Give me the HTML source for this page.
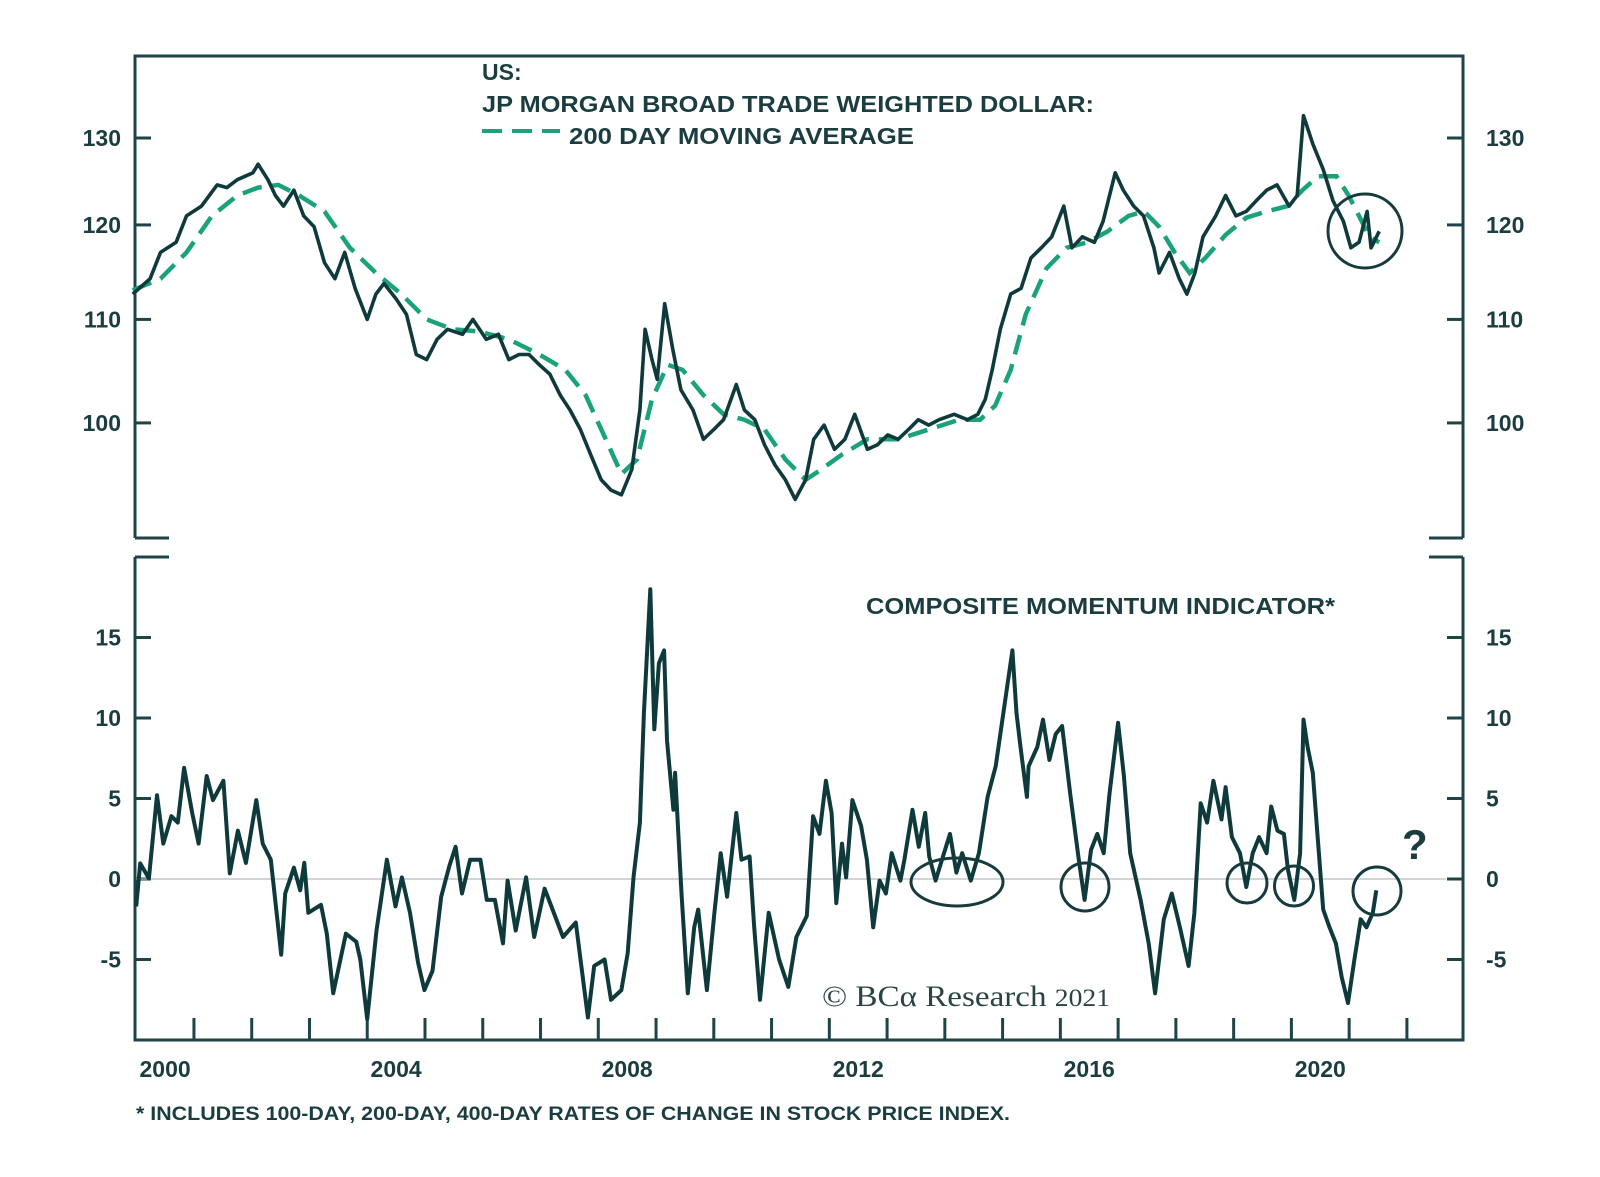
<!DOCTYPE html>
<html><head><meta charset="utf-8">
<style>
html,body{margin:0;padding:0;background:#fff;}
svg{display:block;}
text{font-family:"Liberation Sans",Arial,sans-serif;fill:#1b3d40;}
.lbl{font-size:23px;font-weight:bold;}
.ttl{font-size:23px;font-weight:bold;}
</style></head>
<body>
<svg id="chart" width="1600" height="1177" viewBox="0 0 1600 1177" xmlns="http://www.w3.org/2000/svg">
<g id="frames">
  <path d="M135,538 L135,56 L1463,56 L1463,538" fill="none" stroke="#1f4447" stroke-width="3"/>
  <line x1="135" y1="538" x2="169" y2="538" stroke="#1f4447" stroke-width="3"/>
  <line x1="1429" y1="538" x2="1463" y2="538" stroke="#1f4447" stroke-width="3"/>
  <path d="M135,557 L135,1040 L1463,1040 L1463,557" fill="none" stroke="#1f4447" stroke-width="3"/>
  <line x1="135" y1="557" x2="169" y2="557" stroke="#1f4447" stroke-width="3"/>
  <line x1="1429" y1="557" x2="1463" y2="557" stroke="#1f4447" stroke-width="3"/>
</g>
<g id="axes"></g>
<g id="series"></g>
<g id="annot" fill="none" stroke="#163a3d" stroke-width="3">
  <circle cx="1365" cy="231" r="37"/>
  <ellipse cx="957" cy="882" rx="46" ry="24"/>
  <ellipse cx="1085" cy="887" rx="24" ry="24"/>
  <ellipse cx="1247" cy="883" rx="20" ry="20"/>
  <ellipse cx="1294" cy="886" rx="19.5" ry="20"/>
  <ellipse cx="1377" cy="891" rx="24" ry="24"/>
</g>
<text x="1402" y="859" style="font-size:42px;font-weight:bold">?</text>
<text x="482" y="80" class="ttl">US:</text>
<text x="482" y="112" class="ttl" textLength="612" lengthAdjust="spacingAndGlyphs">JP MORGAN BROAD TRADE WEIGHTED DOLLAR:</text>
<line x1="482" y1="131" x2="560" y2="131" stroke="#1aa37a" stroke-width="4" stroke-dasharray="20,10"/>
<text x="569" y="144" class="ttl" textLength="345" lengthAdjust="spacingAndGlyphs">200 DAY MOVING AVERAGE</text>
<text x="866" y="614" class="ttl" textLength="469" lengthAdjust="spacingAndGlyphs">COMPOSITE MOMENTUM INDICATOR*</text>
<text x="822" y="1006" textLength="288" lengthAdjust="spacingAndGlyphs" style="font-family:'Liberation Serif',serif;font-size:30px;fill:#2a4446">© BCα Research <tspan style="font-size:25px">2021</tspan></text>
<text x="136" y="1120" textLength="874" lengthAdjust="spacingAndGlyphs" style="font-size:19px;font-weight:bold">* INCLUDES 100-DAY, 200-DAY, 400-DAY  RATES OF CHANGE IN STOCK PRICE INDEX.</text>
</svg>
<script>
const BASE_YEAR = 2000;
const topTicks = [130, 120, 110, 100];
const bottomTicks = [15, 10, 5, 0, -5];
const xLabels = [2000, 2004, 2008, 2012, 2016, 2020];
const dollarYears = [-0.06,0.24,0.42,0.69,0.87,1.13,1.40,1.57,1.75,2.02,2.11,2.28,2.41,2.55,2.73,2.90,3.08,3.26,3.44,3.61,3.79,4.00,4.15,4.29,4.50,4.68,4.85,5.03,5.21,5.39,5.65,5.83,6.06,6.27,6.45,6.63,6.80,6.98,7.16,7.34,7.51,7.69,7.87,8.05,8.22,8.40,8.58,8.72,8.81,8.93,9.02,9.15,9.29,9.43,9.64,9.82,10.00,10.17,10.39,10.53,10.71,10.88,11.06,11.24,11.41,11.59,11.73,11.91,12.09,12.27,12.44,12.66,12.83,13.01,13.19,13.37,13.54,13.72,13.90,14.16,14.39,14.57,14.70,14.82,14.96,15.14,15.32,15.49,15.67,15.85,16.06,16.20,16.38,16.59,16.74,16.95,17.09,17.27,17.44,17.62,17.71,17.89,18.06,18.19,18.33,18.47,18.69,18.86,19.04,19.22,19.39,19.57,19.75,19.96,20.10,20.21,20.37,20.55,20.72,20.90,21.03,21.17,21.31,21.38,21.52];
const dollarValues = [112.6,114.2,117.0,118.1,121.0,122.1,124.5,124.2,125.1,125.9,126.9,125.1,123.3,122.1,123.9,121.0,119.8,115.9,114.2,117.0,113.2,110.0,112.6,113.7,112.1,110.5,106.5,106.0,108.0,109.0,108.5,110.0,108.0,108.5,106.0,106.5,106.5,105.5,104.6,102.6,101.2,99.4,97.1,94.9,94.0,93.6,95.8,101.2,109.0,106.0,104.1,111.6,107.0,103.1,101.2,98.5,99.4,100.3,103.6,101.2,100.3,98.0,96.2,94.9,93.2,94.9,98.5,99.8,97.6,98.5,100.8,97.6,98.0,98.9,98.5,99.4,100.3,99.8,100.3,100.8,100.3,100.8,102.2,105.0,109.0,112.6,113.2,116.4,117.5,118.7,122.1,117.5,118.7,118.1,120.4,125.9,123.9,122.1,121.0,117.5,114.8,117.0,114.2,112.6,114.8,118.7,121.0,123.3,121.0,121.5,122.7,123.9,124.5,122.1,123.3,132.7,129.3,126.3,122.7,120.4,117.5,118.1,121.5,117.5,119.3];
const maYears = [-0.06,0.42,0.87,1.31,1.75,2.11,2.46,2.82,3.26,3.70,4.15,4.59,5.03,5.48,5.92,6.45,6.98,7.43,7.78,8.13,8.40,8.67,8.93,9.20,9.46,9.82,10.17,10.53,10.88,11.24,11.59,11.86,12.21,12.66,13.19,13.72,14.25,14.61,14.87,15.14,15.40,15.76,16.11,16.47,16.82,17.18,17.45,17.71,17.98,18.24,18.51,18.86,19.22,19.57,19.93,20.19,20.46,20.78,20.99,21.17,21.35,21.52];
const maValues = [113.0,114.2,117.0,121.0,123.3,124.2,124.5,123.3,121.5,117.5,114.8,112.6,110.0,109.0,108.8,108.0,106.5,105.0,102.6,98.5,95.4,96.7,102.2,105.5,105.0,102.6,100.8,100.3,99.4,96.7,94.9,95.8,97.1,98.5,98.5,99.4,100.3,100.3,101.6,105.0,110.5,115.3,117.5,118.1,119.3,121.0,121.5,119.8,117.0,114.8,116.4,118.9,120.8,121.5,122.1,123.9,125.5,125.5,123.3,121.0,118.7,118.1];
const momYears = [0.00,0.07,0.22,0.36,0.47,0.61,0.72,0.83,0.97,1.08,1.22,1.33,1.51,1.62,1.76,1.90,2.08,2.19,2.33,2.51,2.58,2.73,2.84,2.91,2.98,3.20,3.30,3.41,3.63,3.81,3.88,4.00,4.16,4.34,4.49,4.60,4.74,4.88,4.99,5.13,5.28,5.42,5.53,5.64,5.78,5.96,6.07,6.21,6.35,6.43,6.57,6.75,6.89,7.07,7.21,7.39,7.61,7.82,7.93,8.11,8.22,8.40,8.51,8.61,8.72,8.79,8.90,8.97,9.05,9.14,9.19,9.30,9.33,9.44,9.55,9.66,9.73,9.88,10.01,10.12,10.23,10.39,10.48,10.62,10.70,10.80,10.95,11.13,11.29,11.43,11.61,11.72,11.83,11.94,12.04,12.12,12.22,12.29,12.40,12.55,12.65,12.76,12.87,12.98,13.08,13.23,13.30,13.44,13.55,13.66,13.73,13.84,13.95,14.09,14.20,14.30,14.45,14.59,14.74,14.88,15.02,15.17,15.24,15.31,15.42,15.45,15.60,15.70,15.81,15.92,16.03,16.17,16.32,16.42,16.53,16.64,16.75,16.85,17.00,17.10,17.21,17.39,17.53,17.64,17.79,17.93,18.07,18.22,18.32,18.43,18.54,18.65,18.79,18.86,18.97,19.11,19.22,19.33,19.44,19.57,19.65,19.76,19.87,19.94,20.05,20.15,20.21,20.28,20.37,20.44,20.55,20.66,20.77,20.87,20.98,21.09,21.20,21.30,21.41,21.47];
const momValues = [-1.7,0.97,0.04,5.2,2.2,3.9,3.5,6.9,4.1,2.2,6.4,4.9,6.1,0.35,3.0,1.0,4.9,2.2,1.2,-4.7,-0.9,0.7,-0.7,1.0,-2.1,-1.6,-3.4,-7.1,-3.4,-3.9,-5.0,-8.7,-3.2,1.2,-1.7,0.1,-2.1,-5.2,-6.9,-5.7,-1.1,0.8,2.0,-0.9,1.2,1.2,-1.3,-1.3,-4.0,-0.1,-3.2,0.1,-3.6,-0.6,-1.9,-3.6,-2.7,-8.6,-5.4,-5.0,-7.5,-6.9,-4.6,0.1,3.5,10.3,18.0,9.3,13.4,14.2,8.6,4.3,6.6,-0.9,-7.1,-3.0,-1.9,-6.9,-2.1,1.6,-1.1,4.1,1.2,1.4,-3.0,-7.5,-2.1,-5.0,-6.7,-3.6,-2.3,3.9,2.8,6.1,4.1,-1.5,2.2,0.1,4.9,3.3,1.2,-3.0,-0.1,-0.9,1.6,-0.1,1.2,4.3,2.0,4.1,1.4,-0.1,1.2,2.8,0.4,1.6,-0.1,1.6,5.1,7.0,10.5,14.2,10.3,8.2,5.1,7.0,8.2,9.9,7.4,9.0,9.5,5.3,1.2,-1.3,1.8,2.8,1.6,5.3,9.7,6.4,1.6,-1.3,-4.0,-7.1,-2.5,-0.9,-3.0,-5.4,-2.1,4.7,3.5,6.1,3.7,5.7,2.6,1.6,-0.5,1.6,2.6,1.6,4.5,3.0,2.8,0.6,-1.3,1.6,9.9,8.2,6.6,3.3,-1.9,-3.0,-4.0,-6.1,-7.7,-5.0,-2.5,-3.0,-2.1,-0.7];

const NS = 'http://www.w3.org/2000/svg';
function xScale(t){ return 136.2 + 57.76 * t; }
function yTop(v){ return 138 + 1086 * Math.log(130 / v); }
function yBot(v){ return 879 - 16.1 * v; }
function mk(tag, attrs, parent){ const e = document.createElementNS(NS, tag); for (const k in attrs) e.setAttribute(k, attrs[k]); parent.appendChild(e); return e; }

const axes = document.getElementById('axes');
const series = document.getElementById('series');
const C = '#1f4447';

topTicks.forEach(v => {
  const y = yTop(v);
  const l = mk('line', {x1:135, y1:y, x2:151, y2:y, stroke:C, 'stroke-width':3}, axes);
  
  
  const r = mk('line', {x1:1447, y1:y, x2:1463, y2:y, stroke:C, 'stroke-width':3}, axes);
  
  
  const t1 = mk('text', {x:121, y:y + 8, 'text-anchor':'end', class:'lbl'}, axes);
  t1.textContent = v;
  
  
  const t2 = mk('text', {x:1486, y:y + 8, class:'lbl'}, axes);
  t2.textContent = v;
  
  
});
bottomTicks.forEach(v => {
  const y = yBot(v);
  const l = mk('line', {x1:135, y1:y, x2:151, y2:y, stroke:C, 'stroke-width':3}, axes);
  
  
  const r = mk('line', {x1:1447, y1:y, x2:1463, y2:y, stroke:C, 'stroke-width':3}, axes);
  
  
  const t1 = mk('text', {x:121, y:y + 8, 'text-anchor':'end', class:'lbl'}, axes);
  t1.textContent = v;
  
  
  const t2 = mk('text', {x:1486, y:y + 8, class:'lbl'}, axes);
  t2.textContent = v;
  
  
});
const zl = mk('line', {x1:136, y1:yBot(0), x2:1446, y2:yBot(0), stroke:'#b8bcbc', 'stroke-width':1.2}, axes);


for (let yr = 1; yr <= 22; yr++) {
  const x = xScale(yr);
  const tk = mk('line', {x1:x, y1:1040, x2:x, y2:1018, stroke:C, 'stroke-width':3}, axes);
  
  
}
xLabels.forEach(y => {
  const t = mk('text', {x:xScale(y - BASE_YEAR + 0.5), y:1077, 'text-anchor':'middle', class:'lbl'}, axes);
  t.textContent = y;
  
  
});

function pathOf(xs, vs, ys){ return xs.map((t, i) => (i ? 'L' : 'M') + xScale(t).toFixed(1) + ',' + ys(vs[i]).toFixed(1)).join(' '); }
const ma = mk('path', {d:pathOf(maYears, maValues, yTop), fill:'none', stroke:'#1aa37a', 'stroke-width':4.5, 'stroke-dasharray':'20,10'}, series);


const dl = mk('path', {d:pathOf(dollarYears, dollarValues, yTop), fill:'none', stroke:'#0f3a3c', 'stroke-width':3.6, 'stroke-linejoin':'round'}, series);


const ml = mk('path', {d:pathOf(momYears, momValues, yBot), fill:'none', stroke:'#0f3a3c', 'stroke-width':4, 'stroke-linejoin':'round'}, series);


</script>
</body></html>
